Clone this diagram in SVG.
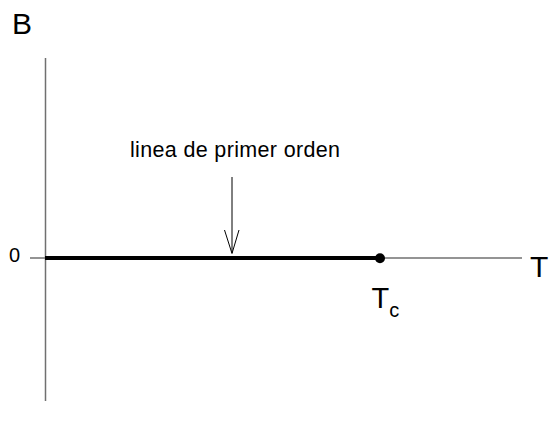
<svg xmlns="http://www.w3.org/2000/svg" width="549" height="430" viewBox="0 0 549 430">
<style>
text{font-family:"Liberation Sans",Arial,sans-serif;fill:#000}
.axis{stroke:#707070;stroke-width:1.5;fill:none}
</style>
<rect width="549" height="430" fill="#fff"/>
<g id="connectors">
<line class="axis" x1="45.5" y1="58" x2="45.5" y2="401"/>
<line class="axis" x1="30" y1="258" x2="522" y2="258"/>
<line x1="45" y1="258" x2="380" y2="258" stroke="#000" stroke-width="4"/>
<line x1="232" y1="177" x2="232" y2="253" stroke="#000" stroke-width="1"/>
<polyline points="224.5,230 232,253.5 239,230" fill="none" stroke="#000" stroke-width="1"/>
</g>
<g id="axis-B"><text x="12" y="34" font-size="30">B</text></g>
<g id="axis-T"><text x="530" y="277" font-size="30">T</text></g>
<g id="zero"><text x="9" y="262" font-size="20">0</text></g>
<g id="label"><text x="130" y="157" font-size="21.5" textLength="210">linea de primer orden</text></g>
<g id="Tc"><circle cx="380" cy="258.3" r="5" fill="#000"/><text x="371.5" y="308" font-size="29">T<tspan font-size="20" dy="9">c</tspan></text></g>
</svg>
